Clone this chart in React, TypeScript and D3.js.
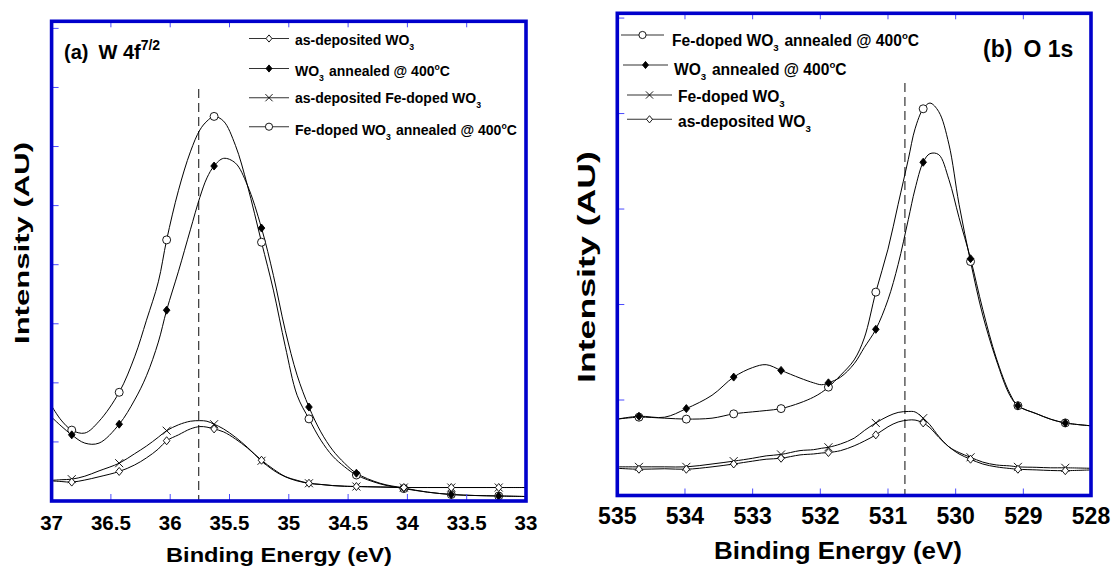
import React from "react";
import * as d3 from "d3";

// ---------- Panel (a) W 4f7/2 ----------
const leftEnergies = [37.0, 36.92, 36.83, 36.72, 36.6, 36.43, 36.3, 36.2, 36.1, 36.03, 35.93, 35.83, 35.75, 35.69, 35.63, 35.55, 35.45, 35.35, 35.23, 35.13, 35.03, 34.93, 34.83, 34.73, 34.63, 34.53, 34.43, 34.23, 34.03, 33.83, 33.63, 33.43, 33.23, 33.0];
const leftFeAnnealed = [1.61, 1.37, 1.2, 1.15, 1.35, 1.84, 2.44, 3.06, 3.71, 4.42, 5.26, 5.91, 6.28, 6.43, 6.51, 6.43, 6.02, 5.35, 4.38, 3.57, 2.62, 1.79, 1.39, 1.03, 0.76, 0.58, 0.44, 0.29, 0.21, 0.15, 0.11, 0.093, 0.085, 0.076];
const leftWO3Annealed = [1.42, 1.27, 1.12, 0.98, 0.98, 1.3, 1.71, 2.12, 2.69, 3.23, 3.89, 4.59, 5.14, 5.47, 5.67, 5.8, 5.72, 5.35, 4.62, 3.82, 2.89, 2.13, 1.59, 1.17, 0.86, 0.64, 0.47, 0.3, 0.22, 0.15, 0.11, 0.093, 0.085, 0.076];
const leftFeAsDep = [0.35, 0.36, 0.37, 0.42, 0.51, 0.64, 0.8, 0.93, 1.08, 1.19, 1.29, 1.35, 1.36, 1.35, 1.3, 1.22, 1.08, 0.91, 0.68, 0.52, 0.41, 0.34, 0.3, 0.28, 0.26, 0.25, 0.245, 0.237, 0.228, 0.228, 0.228, 0.228, 0.228, 0.228];
const leftWO3AsDep = [0.34, 0.33, 0.32, 0.355, 0.41, 0.5, 0.61, 0.73, 0.88, 1.02, 1.12, 1.22, 1.26, 1.25, 1.22, 1.17, 1.05, 0.9, 0.69, 0.54, 0.415, 0.35, 0.3, 0.28, 0.262, 0.25, 0.245, 0.237, 0.228, 0.228, 0.228, 0.228, 0.228, 0.228];
const leftMarkerEnergies = [36.83, 36.43, 36.03, 35.63, 35.23, 34.83, 34.43, 34.03, 33.63, 33.23];
const leftXTicks = [37, 36.5, 36, 35.5, 35, 34.5, 34, 33.5, 33];
const leftXTickLabels = ["37", "36.5", "36", "35.5", "35", "34.5", "34", "33.5", "33"];
const leftYTicks = [1, 2, 3, 4, 5, 6, 7, 8];
const leftPeakLine = 35.76;

// ---------- Panel (b) O 1s ----------
const rightEnergies = [535.0, 534.68, 534.3, 533.98, 533.6, 533.28, 533.0, 532.8, 532.58, 532.3, 532.1, 531.98, 531.88, 531.7, 531.5, 531.35, 531.18, 531.0, 530.85, 530.7, 530.6, 530.48, 530.38, 530.25, 530.1, 529.95, 529.78, 529.6, 529.4, 529.2, 529.08, 528.8, 528.6, 528.38, 528.0];
const rightFeAnnealed = [0.8, 0.82, 0.81, 0.8, 0.81, 0.855, 0.876, 0.89, 0.91, 0.97, 1.03, 1.08, 1.135, 1.26, 1.42, 1.65, 2.13, 2.58, 3.05, 3.52, 3.84, 4.05, 4.11, 4.02, 3.68, 3.05, 2.45, 1.89, 1.42, 1.05, 0.94, 0.855, 0.8, 0.76, 0.73];
const rightWO3Annealed = [0.8, 0.83, 0.82, 0.91, 1.05, 1.24, 1.34, 1.37, 1.31, 1.23, 1.18, 1.16, 1.18, 1.24, 1.38, 1.55, 1.74, 2.05, 2.42, 2.89, 3.21, 3.49, 3.58, 3.57, 3.31, 2.91, 2.48, 1.95, 1.44, 1.07, 0.94, 0.855, 0.8, 0.76, 0.73];
const rightFeDoped = [0.3, 0.3, 0.3, 0.3, 0.33, 0.36, 0.39, 0.415, 0.43, 0.47, 0.48, 0.495, 0.505, 0.54, 0.6, 0.68, 0.76, 0.83, 0.87, 0.88, 0.875, 0.81, 0.74, 0.62, 0.51, 0.45, 0.4, 0.35, 0.32, 0.31, 0.3, 0.295, 0.29, 0.29, 0.285];
const rightWO3AsDep = [0.285, 0.275, 0.28, 0.275, 0.3, 0.33, 0.36, 0.38, 0.39, 0.425, 0.435, 0.445, 0.45, 0.47, 0.52, 0.57, 0.635, 0.72, 0.77, 0.79, 0.79, 0.76, 0.71, 0.61, 0.51, 0.435, 0.38, 0.33, 0.3, 0.283, 0.275, 0.268, 0.262, 0.26, 0.268];
const rightMarkerEnergies = [534.68, 533.98, 533.28, 532.58, 531.88, 531.18, 530.48, 529.78, 529.08, 528.38];
const rightXTicks = [535, 534, 533, 532, 531, 530, 529, 528];
const rightXTickLabels = ["535", "534", "533", "532", "531", "530", "529", "528"];
const rightYTicks = [1, 2, 3, 4, 5];
const rightPeakLine = 530.75;

const FONT = "'Liberation Sans', Arial, Helvetica, sans-serif";
const FRAME = "#0000cc";
const TICK = "#4a4aff";

type Shape = "circle" | "diamondFilled" | "cross" | "diamondOpen";

function Marker({ x, y, shape, s = 1 }: { x: number; y: number; shape: Shape; s?: number }) {
  if (shape === "circle") return <circle cx={x} cy={y} r={4 * s} fill="white" stroke="black" strokeWidth={0.9} />;
  if (shape === "diamondFilled" || shape === "diamondOpen") {
    const a = 4 * s;
    const b = 3.3 * s;
    return (
      <path
        d={`M${x},${y - a}L${x + b},${y}L${x},${y + a}L${x - b},${y}Z`}
        fill={shape === "diamondFilled" ? "black" : "white"}
        stroke="black"
        strokeWidth={0.9}
      />
    );
  }
  const c = 4 * s;
  return <path d={`M${x - c},${y - c}L${x + c},${y + c}M${x - c},${y + c}L${x + c},${y - c}`} stroke="black" strokeWidth={0.9} />;
}

function Panel(props: {
  energies: number[];
  series: { values: number[]; shape: Shape }[];
  markers: number[];
  x: d3.ScaleLinear<number, number>;
  y: d3.ScaleLinear<number, number>;
  xTicks: number[];
  xTickLabels: string[];
  yTicks: number[];
  peak: number;
  peakTop: number;
  tickFont: number;
  labelBaseline: number;
}) {
  const { energies, series, markers, x, y, xTicks, xTickLabels, yTicks, peak, peakTop, tickFont, labelBaseline } = props;
  const [x0, x1] = x.range();
  const [y0, y1] = y.range();
  const line = d3
    .line<[number, number]>()
    .x((d) => x(d[0]))
    .y((d) => y(d[1]))
    .curve(d3.curveCatmullRom.alpha(0.5));
  return (
    <g>
      <line x1={x(peak)} x2={x(peak)} y1={peakTop} y2={y0} stroke="#444" strokeWidth={1.3} strokeDasharray="9,5" />
      {series.map((s, i) => {
        const pts = energies.map((e, j) => [e, s.values[j]] as [number, number]);
        return <path key={"l" + i} d={line(pts) || ""} fill="none" stroke="black" strokeWidth={1} />;
      })}
      {series.map((s, i) =>
        energies.map((e, j) =>
          markers.some((m) => Math.abs(m - e) < 1e-6) ? (
            <Marker key={`m${i}-${j}`} x={x(e)} y={y(s.values[j])} shape={s.shape} />
          ) : null
        )
      )}
      {xTicks.map((t) => (
        <g key={"xt" + t}>
          <line x1={x(t)} x2={x(t)} y1={y0} y2={y0 - 7} stroke={TICK} strokeWidth={1} />
          <line x1={x(t)} x2={x(t)} y1={y1} y2={y1 + 6} stroke={TICK} strokeWidth={1} />
        </g>
      ))}
      {yTicks.map((t) => (
        <line key={"yt" + t} x1={x0} x2={x0 + 7} y1={y(t)} y2={y(t)} stroke={TICK} strokeWidth={1} />
      ))}
      <rect x={x0} y={y1} width={x1 - x0} height={y0 - y1} fill="none" stroke={FRAME} strokeWidth={3.6} />
      {xTickLabels.map((lab, i) => (
        <text
          key={"xl" + lab}
          x={x(xTicks[i])}
          y={labelBaseline}
          textAnchor="middle"
          fontFamily={FONT}
          fontWeight="bold"
          fontSize={tickFont}
        >
          {lab}
        </text>
      ))}
    </g>
  );
}

function LegendRow(props: {
  lx0: number;
  lx1: number;
  my: number;
  tx: number;
  base: number;
  shape: Shape;
  fs: number;
  children: React.ReactNode;
}) {
  const { lx0, lx1, my, tx, base, shape, fs, children } = props;
  return (
    <g>
      <line x1={lx0} x2={lx1} y1={my} y2={my} stroke="#333" strokeWidth={1.1} />
      <Marker x={(lx0 + lx1) / 2} y={my} shape={shape} s={0.9} />
      <text x={tx} y={base} fontFamily={FONT} fontWeight="bold" fontSize={fs}>
        {children}
      </text>
    </g>
  );
}

const Sub = ({ t, fs }: { t: string; fs: number }) => (
  <>
    <tspan dy={fs * 0.35} fontSize={fs * 0.62}>
      {t}
    </tspan>
    <tspan dy={-fs * 0.35}>{"\u200A"}</tspan>
  </>
);

const Deg = ({ fs }: { fs: number }) => (
  <>
    <tspan dy={-fs * 0.45} fontSize={fs * 0.62}>
      o
    </tspan>
    <tspan dy={fs * 0.45}>C</tspan>
  </>
);

export default function App() {
  const xL = d3.scaleLinear().domain([37, 33]).range([51.6, 526]);
  const yL = d3.scaleLinear().domain([0, 8.12]).range([501, 21.3]);
  const xR = d3.scaleLinear().domain([535, 528]).range([617.3, 1091]);
  const yR = d3.scaleLinear().domain([0, 5.05]).range([495.5, 13.3]);

  const fsL = 14;
  const fsR = 15.6;

  return (
    <svg width={1113} height={568} style={{ position: "absolute", left: 0, top: 0, background: "white" }}>
      <rect x={0} y={0} width={1113} height={568} fill="white" />
      <Panel
        energies={leftEnergies}
        series={[
          { values: leftFeAnnealed, shape: "circle" },
          { values: leftWO3Annealed, shape: "diamondFilled" },
          { values: leftFeAsDep, shape: "cross" },
          { values: leftWO3AsDep, shape: "diamondOpen" },
        ]}
        markers={leftMarkerEnergies}
        x={xL}
        y={yL}
        xTicks={leftXTicks}
        xTickLabels={leftXTickLabels}
        yTicks={leftYTicks}
        peak={leftPeakLine}
        peakTop={89}
        tickFont={20.5}
        labelBaseline={530}
      />
      <Panel
        energies={rightEnergies}
        series={[
          { values: rightFeAnnealed, shape: "circle" },
          { values: rightWO3Annealed, shape: "diamondFilled" },
          { values: rightFeDoped, shape: "cross" },
          { values: rightWO3AsDep, shape: "diamondOpen" },
        ]}
        markers={rightMarkerEnergies}
        x={xR}
        y={yR}
        xTicks={rightXTicks}
        xTickLabels={rightXTickLabels}
        yTicks={rightYTicks}
        peak={rightPeakLine}
        peakTop={83}
        tickFont={23}
        labelBaseline={524}
      />

      {/* Panel titles */}
      <text x={64} y={59} fontFamily={FONT} fontWeight="bold" fontSize={20}>
        (a)
        <tspan dx={10}>W 4f</tspan>
        <tspan dy={-9} fontSize={14}>
          7/2
        </tspan>
      </text>
      <text x={983} y={57} fontFamily={FONT} fontWeight="bold" fontSize={23}>
        (b)<tspan dx={11}>O 1s</tspan>
      </text>

      {/* Left legend */}
      <LegendRow lx0={249} lx1={289} my={38.5} tx={295} base={45} shape="diamondOpen" fs={fsL}>
        as-deposited WO<Sub t="3" fs={fsL} />
      </LegendRow>
      <LegendRow lx0={249} lx1={289} my={68.5} tx={295} base={76} shape="diamondFilled" fs={fsL}>
        WO<Sub t="3" fs={fsL} /> annealed @ 400<Deg fs={fsL} />
      </LegendRow>
      <LegendRow lx0={249} lx1={289} my={97.7} tx={295} base={103} shape="cross" fs={fsL}>
        as-deposited Fe-doped WO<Sub t="3" fs={fsL} />
      </LegendRow>
      <LegendRow lx0={249} lx1={289} my={126.7} tx={295} base={135} shape="circle" fs={fsL}>
        Fe-doped WO<Sub t="3" fs={fsL} /> annealed @ 400<Deg fs={fsL} />
      </LegendRow>

      {/* Right legend */}
      <LegendRow lx0={621} lx1={664} my={35} tx={672} base={46} shape="circle" fs={fsR}>
        Fe-doped WO<Sub t="3" fs={fsR} /> annealed @ 400<Deg fs={fsR} />
      </LegendRow>
      <LegendRow lx0={623} lx1={668} my={65} tx={674} base={75} shape="diamondFilled" fs={fsR}>
        WO<Sub t="3" fs={fsR} /> annealed @ 400<Deg fs={fsR} />
      </LegendRow>
      <LegendRow lx0={627} lx1={672} my={95} tx={678} base={101.5} shape="cross" fs={fsR}>
        Fe-doped WO<Sub t="3" fs={fsR} />
      </LegendRow>
      <LegendRow lx0={627} lx1={672} my={119.3} tx={678} base={126.5} shape="diamondOpen" fs={fsR}>
        as-deposited WO<Sub t="3" fs={fsR} />
      </LegendRow>

      {/* Axis titles */}
      <text x={279} y={562} textAnchor="middle" fontFamily={FONT} fontWeight="bold" fontSize={20} textLength={226} lengthAdjust="spacingAndGlyphs">
        Binding Energy (eV)
      </text>
      <text x={838} y={559} textAnchor="middle" fontFamily={FONT} fontWeight="bold" fontSize={23.5} textLength={248} lengthAdjust="spacingAndGlyphs">
        Binding Energy (eV)
      </text>
      <text
        transform="translate(29,243) rotate(-90)"
        textAnchor="middle"
        fontFamily={FONT}
        fontWeight="bold"
        fontSize={20}
        textLength={202}
        lengthAdjust="spacingAndGlyphs"
      >
        Intensity (AU)
      </text>
      <text
        transform="translate(595,267) rotate(-90)"
        textAnchor="middle"
        fontFamily={FONT}
        fontWeight="bold"
        fontSize={23}
        textLength={232}
        lengthAdjust="spacingAndGlyphs"
      >
        Intensity (AU)
      </text>
    </svg>
  );
}
